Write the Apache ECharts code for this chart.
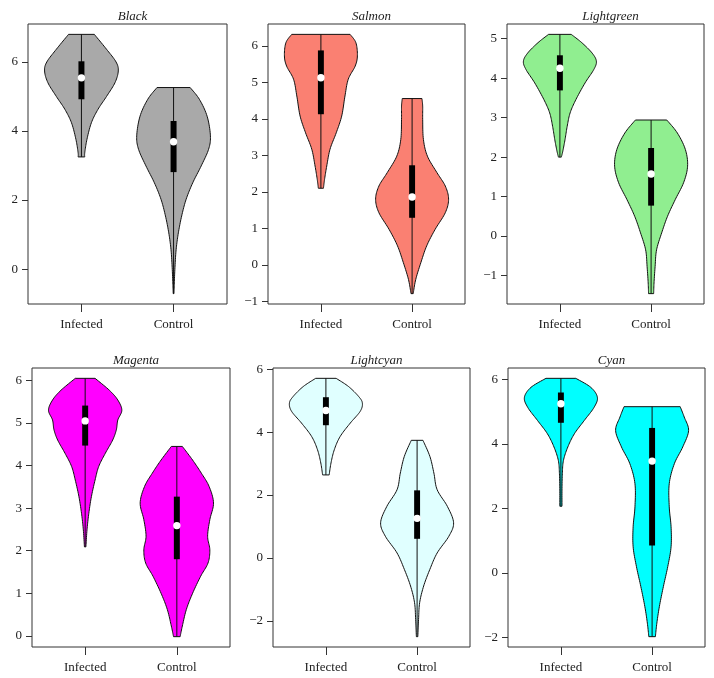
<!DOCTYPE html>
<html><head><meta charset="utf-8">
<script src="https://cdn.jsdelivr.net/npm/echarts@6/dist/echarts.min.js"></script>
<style>html,body{margin:0;padding:0;background:#fff}#c{width:714px;height:678px}</style>
</head><body><div id="c"></div>
<script>
// ---------- DATA ----------
const panelTitles = ['Black', 'Salmon', 'Lightgreen', 'Magenta', 'Lightcyan', 'Cyan'];
const panelColors = ['#A9A9A9', '#FA8072', '#90EE90', '#FF00FF', '#E0FFFF', '#00FFFF'];
const categories = ['Infected', 'Control'];

// Violin outlines: y values (ascending) and relative half-widths (1 = widest)
const blackInfY = [3.25, 3.37, 3.76, 4.24, 4.63, 5.0, 5.4, 5.74, 6.0, 6.37, 6.8];
const blackInfW = [0.09, 0.09, 0.15, 0.27, 0.45, 0.68, 0.91, 1.0, 0.94, 0.68, 0.35];
const blackConY = [-0.71, -0.4, 0.09, 0.57, 1.05, 1.54, 2.02, 2.5, 2.99, 3.47, 3.86, 4.43, 4.92, 5.26];
const blackConW = [0.01, 0.02, 0.04, 0.07, 0.13, 0.22, 0.34, 0.52, 0.75, 0.95, 1.0, 0.91, 0.7, 0.45];

const salmonInfY = [2.1, 2.34, 2.71, 3.17, 3.62, 4.08, 4.63, 5.09, 5.45, 5.73, 6.09, 6.32];
const salmonInfW = [0.07, 0.10, 0.16, 0.25, 0.42, 0.57, 0.66, 0.75, 0.94, 1.0, 0.96, 0.8];
const salmonConY = [-0.79, -0.4, 0.06, 0.52, 0.97, 1.43, 1.80, 2.16, 2.53, 2.98, 3.44, 3.99, 4.35, 4.56];
const salmonConW = [0.03, 0.10, 0.24, 0.40, 0.63, 0.91, 1.0, 0.91, 0.68, 0.42, 0.31, 0.29, 0.29, 0.27];

const greenInfY = [2.0, 2.15, 2.44, 2.78, 3.12, 3.46, 3.88, 4.22, 4.43, 4.64, 4.9, 5.11];
const greenInfW = [0.04, 0.08, 0.14, 0.2, 0.28, 0.44, 0.69, 0.93, 1.0, 0.88, 0.6, 0.31];
const greenConY = [-1.46, -1.19, -0.77, -0.35, 0.08, 0.5, 0.92, 1.35, 1.77, 2.19, 2.61, 2.94];
const greenConW = [0.07, 0.08, 0.11, 0.15, 0.29, 0.45, 0.66, 0.89, 1.0, 0.94, 0.72, 0.43];

const magentaInfY = [2.09, 2.49, 2.88, 3.27, 3.66, 3.98, 4.29, 4.6, 4.84, 5.07, 5.30, 5.54, 5.77, 6.05];
const magentaInfW = [0.02, 0.05, 0.10, 0.17, 0.27, 0.37, 0.55, 0.75, 0.85, 0.89, 1.0, 0.89, 0.66, 0.27];
const magentaConY = [-0.02, 0.23, 0.62, 1.0, 1.4, 1.71, 2.02, 2.34, 2.73, 3.12, 3.51, 3.82, 4.13, 4.45];
const magentaConW = [0.09, 0.15, 0.26, 0.43, 0.65, 0.85, 0.9, 0.84, 0.9, 1.0, 0.88, 0.67, 0.43, 0.15];

const lcyanInfY = [2.64, 3.02, 3.44, 3.86, 4.29, 4.66, 4.92, 5.13, 5.45, 5.71];
const lcyanInfW = [0.09, 0.14, 0.23, 0.39, 0.67, 0.94, 1.0, 0.9, 0.62, 0.28];
const lcyanConY = [-2.5, -1.95, -1.42, -0.89, -0.36, 0.16, 0.69, 1.12, 1.64, 2.17, 2.7, 3.23, 3.74];
const lcyanConW = [0.02, 0.04, 0.07, 0.18, 0.35, 0.55, 0.87, 1.0, 0.83, 0.55, 0.46, 0.35, 0.16];

const cyanInfY = [2.07, 2.57, 3.08, 3.49, 3.91, 4.32, 4.73, 5.14, 5.45, 5.76, 6.04];
const cyanInfW = [0.03, 0.03, 0.04, 0.07, 0.19, 0.37, 0.64, 0.91, 1.0, 0.82, 0.41];
const cyanConY = [-1.98, -1.56, -1.04, -0.42, 0.2, 0.81, 1.43, 2.05, 2.77, 3.39, 3.91, 4.42, 4.84, 5.16];
const cyanConW = [0.09, 0.13, 0.2, 0.31, 0.43, 0.52, 0.52, 0.47, 0.47, 0.61, 0.84, 1.0, 0.88, 0.77];

// Box statistics per panel: [Infected, Control]
const q1Values     = [[4.92, 2.81], [4.13, 1.29], [3.69, 0.77], [4.47, 1.80], [4.22, 0.61], [4.66, 0.85]];
const medianValues = [[5.54, 3.69], [5.13, 1.86], [4.25, 1.57], [5.05, 2.59], [4.69, 1.26], [5.25, 3.47]];
const q3Values     = [[6.02, 4.29], [5.88, 2.73], [4.58, 2.23], [5.41, 3.27], [5.11, 2.15], [5.60, 4.50]];

// y tick labels per panel
const yTicks = [[0, 2, 4, 6], [-1, 0, 1, 2, 3, 4, 5, 6], [-1, 0, 1, 2, 3, 4, 5],
                [0, 1, 2, 3, 4, 5, 6], [-2, 0, 2, 4, 6], [-2, 0, 2, 4, 6]];

const violinY = [[blackInfY, blackConY], [salmonInfY, salmonConY], [greenInfY, greenConY],
                 [magentaInfY, magentaConY], [lcyanInfY, lcyanConY], [cyanInfY, cyanConY]];
const violinW = [[blackInfW, blackConW], [salmonInfW, salmonConW], [greenInfW, greenConW],
                 [magentaInfW, magentaConW], [lcyanInfW, lcyanConW], [cyanInfW, cyanConW]];

// ---------- LAYOUT ----------
const grids = [
  {left: 28, top: 24, width: 199, height: 280},
  {left: 268, top: 24, width: 197, height: 280},
  {left: 507, top: 24, width: 197, height: 280},
  {left: 32, top: 368, width: 198, height: 279},
  {left: 273, top: 368, width: 197, height: 279},
  {left: 508, top: 368, width: 197, height: 279}
];
const HALF = 0.4, BOXW = 0.065;
const FONT = 'Liberation Serif';
const INK = '#222';

function spline(pts, n) {
  const out = [];
  for (let i = 0; i < pts.length - 1; i++) {
    const p0 = pts[Math.max(i - 1, 0)], p1 = pts[i], p2 = pts[i + 1], p3 = pts[Math.min(i + 2, pts.length - 1)];
    for (let s = 0; s < n; s++) {
      const t = s / n, t2 = t * t, t3 = t2 * t;
      const f = (a, b, c, d) => 0.5 * ((2 * b) + (-a + c) * t + (2 * a - 5 * b + 4 * c - d) * t2 + (-a + 3 * b - 3 * c + d) * t3);
      out.push([f(p0[0], p1[0], p2[0], p3[0]), f(p0[1], p1[1], p2[1], p3[1])]);
    }
  }
  out.push(pts[pts.length - 1]);
  return out;
}

function makeRender(p) {
  return function (params, api) {
    const g = params.dataIndex;
    const ys = violinY[p][g], ws = violinW[p][g];
    const cx = g + 1;
    const right = ys.map((y, k) => api.coord([cx + HALF * ws[k], y]));
    const left = ys.map((y, k) => api.coord([cx - HALF * ws[k], y]));
    const pts = spline(right, 10).concat(spline(left, 10).reverse());
    const top = api.coord([cx, ys[ys.length - 1]]), bot = api.coord([cx, ys[0]]);
    const a = api.coord([cx - BOXW / 2, q3Values[p][g]]), b = api.coord([cx + BOXW / 2, q1Values[p][g]]);
    const m = api.coord([cx, medianValues[p][g]]);
    return {
      type: 'group',
      children: [
        {type: 'polygon', shape: {points: pts}, style: {fill: panelColors[p], stroke: '#111', lineWidth: 1}},
        {type: 'line', shape: {x1: top[0], y1: top[1], x2: bot[0], y2: bot[1]}, style: {stroke: '#111', lineWidth: 1}},
        {type: 'rect', shape: {x: a[0], y: a[1], width: b[0] - a[0], height: b[1] - a[1]}, style: {fill: '#000'}},
        {type: 'circle', shape: {cx: m[0], cy: m[1], r: 3.7}, style: {fill: '#fff'}}
      ]
    };
  };
}

const option = {
  animation: false,
  backgroundColor: '#fff',
  title: [], grid: [], xAxis: [], yAxis: [], series: []
};

panelTitles.forEach((name, p) => {
  const gr = grids[p];
  const all = violinY[p][0].concat(violinY[p][1]);
  const lo = Math.min(...all), hi = Math.max(...all);
  const pad = (hi - lo) * 0.04;
  option.title.push({
    text: name, left: gr.left + gr.width / 2, top: gr.top - 19, textAlign: 'center',
    textStyle: {fontFamily: FONT, fontStyle: 'italic', fontWeight: 'normal', fontSize: 13, color: INK}
  });
  option.grid.push({left: gr.left, top: gr.top, width: gr.width, height: gr.height,
    show: true, borderColor: '#333', borderWidth: 1, backgroundColor: 'transparent'});
  option.xAxis.push({
    type: 'value', gridIndex: p, min: 0.42, max: 2.58, position: 'bottom',
    axisLine: {show: false, onZero: false}, splitLine: {show: false},
    axisTick: {show: true, customValues: [1, 2], length: 8, lineStyle: {color: '#333'}},
    axisLabel: {show: true, customValues: [1, 2], formatter: v => categories[Math.round(v) - 1],
      margin: 14, fontFamily: FONT, fontSize: 13, color: INK}
  });
  option.yAxis.push({
    type: 'value', gridIndex: p, min: lo - pad, max: hi + pad, position: 'left',
    axisLine: {show: false, onZero: false}, splitLine: {show: false},
    axisTick: {show: true, customValues: yTicks[p], length: 6, lineStyle: {color: '#333'}},
    axisLabel: {show: true, customValues: yTicks[p], formatter: v => (v < 0 ? '\u2212' + Math.abs(v) : String(v)),
      margin: 10, fontFamily: FONT, fontSize: 13, color: INK}
  });
  option.series.push({
    type: 'custom', xAxisIndex: p, yAxisIndex: p,
    renderItem: makeRender(p),
    data: categories.map((c, g) => [g + 1, medianValues[p][g]]),
    clip: false
  });
});

echarts.init(document.getElementById('c'), null, {renderer: 'canvas'}).setOption(option);
</script></body></html>
